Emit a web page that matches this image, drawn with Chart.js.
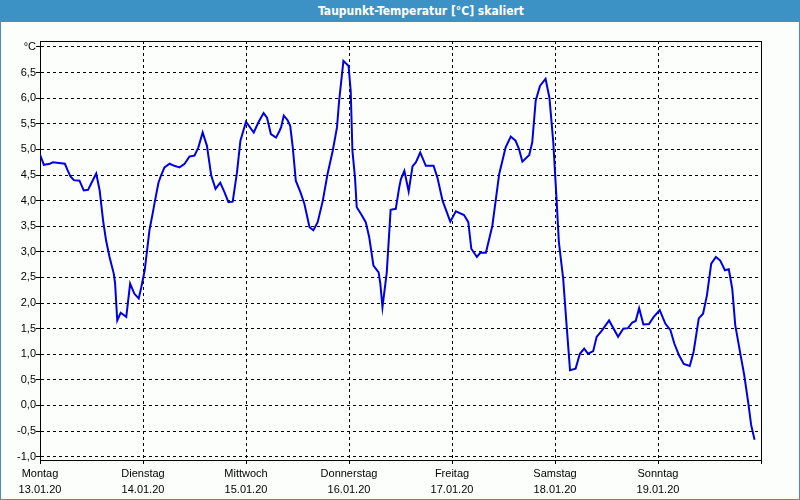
<!DOCTYPE html>
<html>
<head>
<meta charset="utf-8">
<script src="https://cdn.jsdelivr.net/npm/chart.js@4.4.1/dist/chart.umd.min.js"></script>
<style>
  body { margin: 0; }
  #win {
    position: relative; width: 800px; height: 500px; box-sizing: border-box;
    border: 1px solid #3d92c5; background: #fcfefc; overflow: hidden;
  }
  #titlebar {
    position: absolute; left: 0; top: 0; width: 800px; height: 21px;
    background: #3d92c5; color: #fff; z-index: 2;
    font: bold 12px "DejaVu Sans Condensed", "Liberation Sans", sans-serif;
    line-height: 21px; text-align: center; box-sizing: border-box; padding-left: 40px;
  }
  #chart { position: absolute; left: -1px; top: -1px; }
</style>
</head>
<body>
<div id="win">
  <div id="titlebar">Taupunkt-Temperatur [°C] skaliert</div>
  <canvas id="chart" width="800" height="500"></canvas>
</div>
<script>
// hours since Montag 13.01.20 00:00
var hours = [0, 0.9, 2.3, 3.0, 5.8, 6.5, 7.1, 7.9, 9.2, 10.2, 11.2, 11.9, 13.1, 13.9, 14.7, 15.4, 16.2, 17.2, 17.5, 18.0,
  18.8, 20.1, 20.5, 21.0, 22.0, 23.0, 23.6, 24.4, 25.5, 26.3, 26.8, 27.6, 28.2, 29.0, 30.2, 31.3, 32.5, 33.7, 34.8, 36.0,
  36.9, 37.9, 38.9, 39.9, 40.9, 42.0, 43.0, 43.9, 44.9, 45.9, 46.7, 48.0, 49.8, 50.9, 52.1, 52.9, 53.8, 55.0, 55.8, 56.2,
  56.8, 57.7, 58.3, 58.9, 59.6, 60.7, 61.6, 62.8, 63.7, 64.7, 65.9, 67.0, 68.2, 69.2, 69.7, 70.7, 71.9, 72.4, 72.8, 73.4,
  73.8, 74.8, 75.9, 76.7, 77.7, 78.9, 79.3, 79.8, 80.8, 81.7, 82.9, 83.7, 84.1, 84.9, 85.9, 86.8, 87.6, 88.6, 89.9, 91.7,
  92.6, 93.8, 95.6, 96.9, 98.8, 99.8, 100.5, 101.8, 102.6, 103.9, 105.4, 107.0, 108.5, 109.7, 110.8, 111.6, 112.4, 114.0, 114.7, 115.5,
  116.5, 117.8, 118.7, 119.6, 120.4, 120.9, 121.9, 122.7, 123.5, 124.8, 125.8, 126.8, 127.7, 128.9, 129.7, 131.0, 132.6, 134.7, 135.9, 137.0,
  138.0, 138.8, 139.6, 140.6, 141.9, 143.0, 144.4, 145.7, 146.9, 147.8, 148.9, 150.0, 151.4, 152.3, 153.5, 154.5, 155.4, 156.4, 157.5, 158.5,
  159.6, 160.5, 161.3, 162.0, 163.1, 164.1, 165.1, 165.7, 166.5];
var dewPoint = [4.90, 4.70, 4.72, 4.75, 4.72, 4.58, 4.47, 4.40, 4.39, 4.20, 4.21, 4.33, 4.53, 4.20, 3.61, 3.22, 2.90, 2.57, 2.38, 1.66,
  1.81, 1.73, 2.02, 2.38, 2.18, 2.09, 2.31, 2.64, 3.42, 3.77, 4.00, 4.35, 4.49, 4.65, 4.72, 4.68, 4.65, 4.72, 4.86, 4.88,
  5.04, 5.33, 5.07, 4.49, 4.23, 4.35, 4.16, 3.97, 3.98, 4.55, 5.17, 5.54, 5.33, 5.53, 5.71, 5.62, 5.30, 5.23, 5.36, 5.44,
  5.66, 5.57, 5.46, 5.04, 4.39, 4.16, 3.94, 3.48, 3.42, 3.58, 4.00, 4.52, 4.97, 5.43, 5.95, 6.73, 6.63, 6.14, 4.97, 4.45,
  3.87, 3.74, 3.58, 3.29, 2.73, 2.60, 2.38, 1.92, 2.60, 3.82, 3.84, 4.26, 4.42, 4.58, 4.18, 4.67, 4.75, 4.94, 4.68, 4.68,
  4.45, 4.00, 3.59, 3.79, 3.72, 3.58, 3.06, 2.90, 2.98, 2.98, 3.51, 4.52, 5.04, 5.25, 5.17, 5.01, 4.76, 4.89, 5.14, 5.95,
  6.24, 6.38, 6.01, 5.14, 3.97, 3.19, 2.48, 1.57, 0.69, 0.72, 1.01, 1.11, 1.01, 1.06, 1.34, 1.47, 1.66, 1.34, 1.50, 1.51,
  1.62, 1.65, 1.90, 1.58, 1.59, 1.73, 1.86, 1.60, 1.47, 1.21, 0.98, 0.81, 0.77, 1.05, 1.70, 1.79, 2.15, 2.77, 2.90, 2.83,
  2.64, 2.66, 2.28, 1.57, 1.05, 0.59, 0.01, -0.38, -0.67];

var dayNames = ['Montag', 'Dienstag', 'Mittwoch', 'Donnerstag', 'Freitag', 'Samstag', 'Sonntag'];
var dayDates = ['13.01.20', '14.01.20', '15.01.20', '16.01.20', '17.01.20', '18.01.20', '19.01.20'];
var dayTicks = [0, 24, 48, 72, 96, 120, 144, 168];

var yTicks = [-1, -0.5, 0, 0.5, 1, 1.5, 2, 2.5, 3, 3.5, 4, 4.5, 5, 5.5, 6, 6.5, 7];
var yLabels = ['-1,0', '-0,5', '0,0', '0,5', '1,0', '1,5', '2,0', '2,5', '3,0', '3,5', '4,0', '4,5', '5,0', '5,5', '6,0', '6,5', '°C'];

var tickFont = { family: '"Liberation Sans", Arial, sans-serif', size: 11, lineHeight: 16 / 11 };

// top and right edge of the plot box
var frame = {
  id: 'frame',
  afterDraw: function(chart) {
    var a = chart.chartArea, c = chart.ctx;
    var l = Math.round(a.left) + 0.5, r = Math.round(a.right) + 0.5;
    var t = Math.round(a.top) + 0.5, b = Math.round(a.bottom) + 0.5;
    c.save();
    c.strokeStyle = '#000';
    c.lineWidth = 1;
    c.beginPath();
    c.moveTo(l, t); c.lineTo(r, t); c.lineTo(r, b);
    c.stroke();
    c.restore();
  }
};

var points = hours.map(function(h, i) { return { x: h, y: dewPoint[i] }; });

var ctx = document.getElementById('chart').getContext('2d');
var chart = new Chart(ctx, {
  type: 'line',
  data: {
    datasets: [{
      data: points,
      borderColor: '#0000e1',
      borderWidth: 2,
      pointRadius: 0,
      tension: 0,
      fill: false
    }]
  },
  options: {
    responsive: false,
    animation: false,
    devicePixelRatio: 1,
    layout: { padding: { top: 41, left: 1, right: 39, bottom: 0 } },
    plugins: { legend: { display: false }, tooltip: { enabled: false }, title: { display: false } },
    scales: {
      x: {
        type: 'linear',
        min: 0,
        max: 168,
        afterBuildTicks: function(s) { s.ticks = dayTicks.map(function(v) { return { value: v }; }); },
        afterFit: function(s) { s.height = 40; },
        ticks: {
          autoSkip: false,
          maxRotation: 0,
          padding: 2,
          color: '#000',
          font: tickFont,
          callback: function(v, i) { return i < dayNames.length ? [dayNames[i], dayDates[i]] : ''; }
        },
        grid: { color: '#000', lineWidth: 1, tickLength: 4, tickBorderDash: [] },
        border: { color: '#000', width: 1, dash: [3, 3] }
      },
      y: {
        min: -1.065,
        max: 7.117,
        afterBuildTicks: function(s) { s.ticks = yTicks.map(function(v) { return { value: v }; }); },
        afterFit: function(s) { s.width = 39; },
        ticks: {
          padding: 0,
          color: '#000',
          font: tickFont,
          callback: function(v, i) { return yLabels[i]; }
        },
        grid: { color: '#000', lineWidth: 1, tickLength: 4, tickBorderDash: [] },
        border: { color: '#000', width: 1, dash: [3, 3] }
      }
    }
  },
  plugins: [frame]
});
</script>
</body>
</html>
